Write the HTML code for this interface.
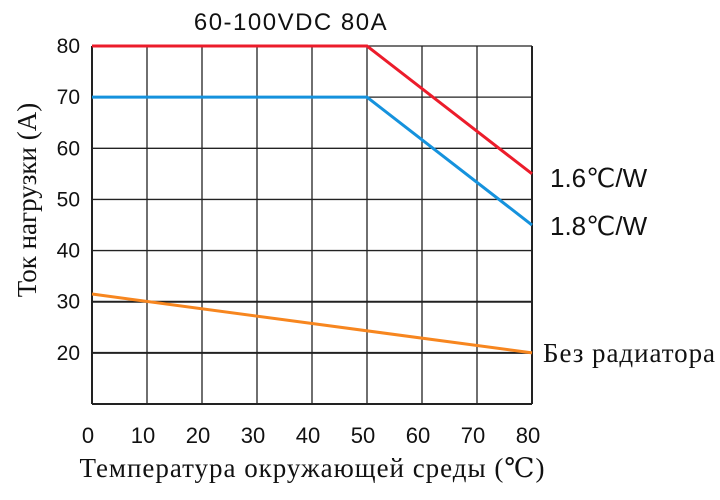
<!DOCTYPE html>
<html><head><meta charset="utf-8"><style>
body{margin:0;background:#fff;width:720px;height:495px;overflow:hidden}
svg text{font-family:"Liberation Sans",sans-serif;fill:#111}
.serif{font-family:"Liberation Serif","DejaVu Serif",serif}
</style></head><body>
<svg id="chart" width="720" height="495">
<text x="291" y="30" font-size="24" letter-spacing="1.5" text-anchor="middle">60-100VDC 80A</text>
<g id="grid"></g>
<g id="ticks"></g>
<g id="series"></g>
<text class="serif" x="312" y="477" font-size="27" text-anchor="middle" textLength="465">Температура окружающей среды (℃)</text>
<text class="serif" transform="translate(36,200) rotate(-90)" font-size="27" text-anchor="middle">Ток нагрузки (A)</text>
<text x="550" y="187" font-size="26">1.6℃/W</text>
<text x="550" y="235" font-size="26">1.8℃/W</text>
<text class="serif" x="543" y="362" font-size="27" textLength="172">Без радиатора</text>
</svg>
<script>
const xTicks=[0,10,20,30,40,50,60,70,80];
const yTicks=[20,30,40,50,60,70,80];
const temps=[0,50,80];
const series16=[80,80,55];
const series18=[70,70,45];
const noRadTemps=[0,80];
const noRad=[31.5,20];
const sx=v=>92+v*5.5;
const sy=v=>404-(v-10)*5.114;
const NS="http://www.w3.org/2000/svg";
function mk(tag,attrs,parent){const e=document.createElementNS(NS,tag);for(const k in attrs)e.setAttribute(k,attrs[k]);parent.appendChild(e);return e;}
const grid=document.getElementById('grid'),ticks=document.getElementById('ticks'),ser=document.getElementById('series');
xTicks.forEach(t=>{
 const l=mk('line',{x1:sx(t),x2:sx(t),y1:sy(80),y2:sy(10),stroke:'#222','stroke-width':(t===0||t===80)?2:1.3},grid);
 
 
 const tx=mk('text',{x:sx(t)-4,y:443,'font-size':22,'text-anchor':'middle'},ticks);tx.textContent=t;
 
 
});
[10].concat(yTicks).forEach(t=>{
 const l=mk('line',{x1:sx(0),x2:sx(80),y1:sy(t),y2:sy(t),stroke:'#222','stroke-width':(t===10||t===30||t===20)?2:1.3},grid);
 
 
});
yTicks.forEach(t=>{
 const tx=mk('text',{x:80,y:sy(t)+7,'font-size':21,'text-anchor':'end'},ticks);tx.textContent=t;
 
 
});
function line(xs,ys,color,name){
 const p=mk('polyline',{points:xs.map((x,i)=>sx(x)+','+sy(ys[i])).join(' '),fill:'none',stroke:color,'stroke-width':3},ser);
 
 
}
line(noRadTemps,noRad,'#f7861f','line-no-radiator');
line(temps,series18,'#1592dd','line-1-8');
line(temps,series16,'#ec1c2b','line-1-6');
</script>
</body></html>
